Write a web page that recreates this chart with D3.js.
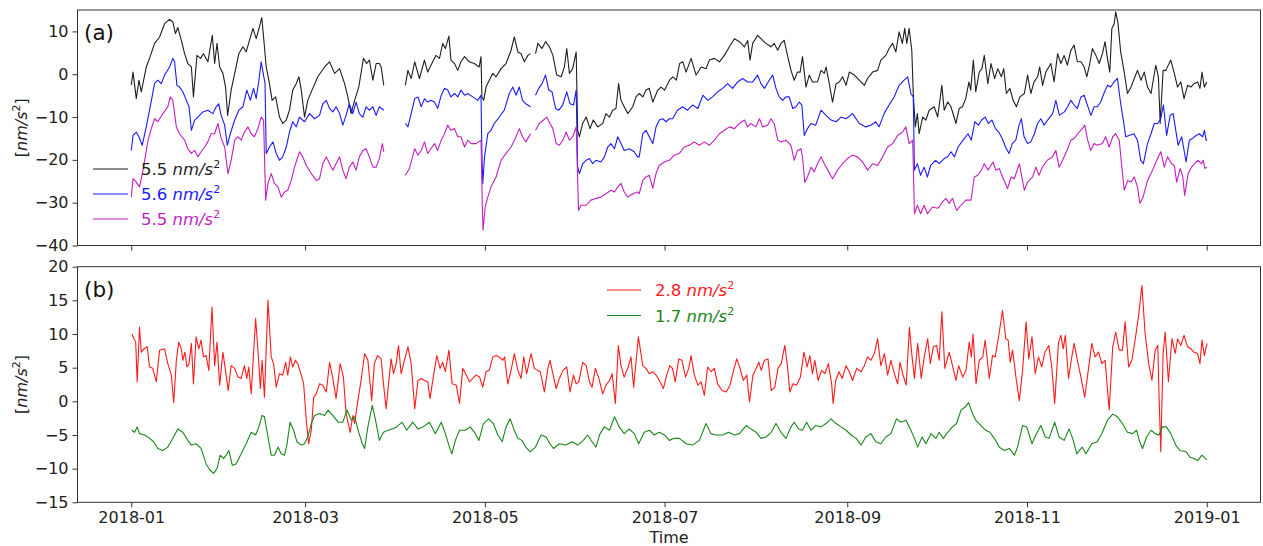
<!DOCTYPE html>
<html>
<head>
<meta charset="utf-8">
<script src="https://cdn.jsdelivr.net/npm/d3@7/dist/d3.min.js"></script>
<style>
  body { margin: 0; background: #fff; }
  svg text { font-family: "DejaVu Sans", sans-serif; }
</style>
</head>
<body>
<div id="chart"></div>
<script>
// day offsets are counted from 2018-01-01, values in nm/s^2
// null marks the gaps in the top records
var blackSeries = [[0,-2.5],[0.6,0.5],[1.7,-5.7],[2.6,-1.4],[3.4,-4.1],[5.1,1.7],[6.2,3.7],[7.9,7.2],[9.6,8.7],[11.3,11.8],[13,12.8],[14.1,12.2],[15,9.5],[15.8,10.9],[17,7.9],[18.1,4.8],[19.2,2.5],[20.4,1.7],[21.1,-5.3],[22.3,4.4],[23.5,3.7],[24.5,4.8],[26,2.9],[27.5,9.1],[28.3,2.5],[29.1,7.2],[30,1.7],[31.1,0.2],[32,-3],[32.7,-9.6],[33.9,-3.7],[35.1,0.2],[36.5,4.8],[37.9,6.4],[39,5.2],[40.1,7.9],[41.3,10.7],[42.4,8.3],[43.5,11.1],[44.3,13.2],[44.9,8.7],[45.8,1.7],[46.9,-2.2],[47.8,-6.1],[49,-5.3],[50.3,-10],[51.4,-11.5],[52.6,-10.7],[53.7,-8.4],[54.8,-3.7],[56,-2.2],[56.9,-0.6],[57.7,-3.7],[58.8,-10],[59.9,-6.1],[61.6,-3.3],[63.3,-0.6],
  [65.6,1.7],[67.3,2.9],[69,0.2],[70.7,1.3],[72.4,-2.2],[73.5,-5.3],[74.6,-9.2],[75.8,-6.1],[77.2,-3],[78.8,3.7],[79.9,2.5],[80.8,3.3],[82,-1.4],[83.1,2.5],[84.2,2.5],[84.8,1.7],[85.7,-2.6],[89,null],
  [93,-2.6],[93.9,0.9],[95,-1],[96.2,2.9],[97.8,-1],[99.5,3.3],[100.6,0.5],[102.3,2.9],[103.4,4.4],[104.6,3.7],[105.7,7.2],[106.6,6],[107.8,8.9],[108.5,3.3],[109.7,2.5],[110.8,0.9],[111.9,2.9],[113.1,4.1],[114.7,2.9],[116.4,2.5],[118.1,1.7],[118.7,4.1],[119,-5.3],[119.6,-6.1],[120.4,-3],[121.5,-1.4],[122.7,0.2],[123.8,-0.6],[125.5,1.3],[127.2,2.5],[128.9,5.6],[130,8.7],[131.2,5.2],[132.3,4.8],[133.4,2.9],[134.6,4.4],[135.5,4.8],[136.3,null],
  [137.2,4.8],[138,7.2],[139.4,6],[140.6,7.6],[141.9,6.4],[143.1,4.4],[144.4,-0.2],[145.9,-0.6],[147,1.7],[147.8,6],[148.7,0.2],[149.8,1.3],[151,5.2],[151.5,-13.1],[152.1,-14.6],[153.2,-11.5],[154.4,-10],[155.7,-12.7],[156.8,-10.7],[158.3,-12.3],[160,-11.5],[161.1,-9.2],[162.3,-10],[163.4,-8.4],[164.5,-8],[165.4,-2.2],[166.2,-6.1],[167.3,-7.6],[168.5,-9.2],[170.2,-7.6],[171.3,-5.3],
  [172.4,-4.5],[173.6,-5.3],[174.7,-3.7],[175.8,-3.3],[177,-6.5],[178.7,-3.7],[179.8,-3],[181,-3.7],[182.7,-1.4],[183.8,-0.6],[185,-1.4],[186.1,2.5],[187.2,2.9],[188.3,0.5],[190,3.7],[191.7,-0.2],[193.4,1.7],[195.1,1.3],[196.2,3.3],[197.9,3.7],[199.6,2.9],[201.3,4.4],[203,6.4],[204.7,8.3],[206.4,7.6],[208.1,6.4],[209.2,7.9],[210,3.3],[210.9,7.2],[212.6,9.1],[213.7,8.3],[215.4,7.2],[217.1,6.4],[218.2,7.2],[219.4,5.6],[220.5,7.2],[221.6,7.9],[222.8,4.1],[223.9,0.9],[225,-1.4],[226.1,0.5],[227,0.5],[227.8,4.1],[229,-3],[230.1,-0.2],[231.2,-1.8],[232.9,-1.8],[234.1,0.9],[235.2,0.2],[235.8,1.7],[236.9,-2.2],[238,-6.5],[239.2,-2.2],[240.3,-1.8],[241.4,-0.6],[242.6,-2.6],[243.7,0.5],[245.4,-0.2],[247.1,-1.4],[248.8,-2.6],[249.9,-1],[251.6,0.5],[253.3,0.9],[254.4,3.3],[256.1,4.4],[257.2,6],[258.4,7.2],[259.5,5.2],[260.6,9.9],[261.7,7.2],[262.5,10.7],[263.2,7.2],[264,10.7],[264.9,5.6],[265.4,-4.5],[266.1,-12.3],[266.8,-9.2],[267.4,-13.9],[268.6,-10],[269.7,-10.7],[270.8,-8.4],[272.5,-7.6],[273.7,-10],
  [275.1,-2.6],[275.9,-8.4],[277.1,-6.5],[278.2,-7.6],[279.9,-11.5],[281,-8],[282.1,-7.6],[283.2,-5.7],[284.3,-1.8],[284.9,-3.7],[285.8,3.3],[286.6,-4.1],[287.8,0.5],[288.7,1.3],[289.5,4.4],[290.7,-2.2],[291.8,2.5],[293,-1],[294.1,1.3],[295.3,-0.6],[296.1,1.3],[297,-4.5],[298.2,-3.3],[299.3,-6.1],[300.4,-7.6],[301.6,-5.3],[303.1,-4.5],[304.2,-0.2],[305.3,-4.5],[306.4,-1.8],[307.6,-0.6],[308.3,1.7],[309.3,-2.6],[310.4,0.5],[312.1,2.5],[313.2,-1.8],[314.4,4.8],[315.5,2.5],[316.6,4.4],[317.7,2.1],[318.9,5.6],[320,6.8],[321.1,2.9],[322.3,2.9],[323.4,1.7],[324.3,-0.6],[325.3,2.5],[326.2,6],[327.4,4.4],[328.5,2.5],[329.6,4.8],[330.5,7.6],[331.3,3.7],[332.1,0.5],[332.8,10.7],[333.6,11.8],[334.1,14.6],[334.9,11.8],[335.8,5.2],[337,0.5],[338.1,-4.5],[339.3,-3],[340.4,-1],[341.5,0.9],[342.7,-1.4],[343.8,0.5],[344.9,-3],[346.1,-4.5],[347.7,2.1],[348.6,-0.6],[349.2,-11.5],[350.2,0.9],[351.1,0.9],[352.8,3.3],[354,0.2],[355.1,-3],[356.2,-1.8],[357.3,-5.7],[358.5,-2.6],[359.6,-3],[360.7,-2.2],[361.9,-1.8],[362.7,-3.3],[363.4,0.5],[364.2,-3],[365,-1.8]];

var blueSeries = [[0,-17.8],[0.6,-14.3],[1.7,-13.5],[2.6,-14.6],[3.7,-16.6],[5.1,-12.3],[6.2,-8.4],[7.9,-2.2],[9,-1.4],[10.2,-2.2],[11.3,-0.2],[13,1.7],[14.1,3.7],[14.7,2.9],[15.5,-2.6],[16.4,-3],[17.5,-4.1],[18.7,-6.1],[19.6,-7.6],[20.4,-13.1],[21.5,-10.7],[22.6,-10],[24.3,-8.8],[26,-8.4],[27.7,-9.2],[28.8,-7.6],[29.7,-6.9],[30.5,-9.6],[31.7,-11.9],[32.6,-16.6],[33.6,-13.9],[35.1,-10.7],[36.5,-8.4],[37.9,-7.6],[39.2,-3.7],[40.4,-6.1],[41.5,-3.3],[42.4,-5.7],[43.3,-1.4],[44.1,2.9],[44.7,0.5],[45.4,-2.2],[45.8,-18.5],[46.9,-17],[48.1,-15.8],[49.2,-18.5],[50.3,-20.1],[51.4,-19.3],[52.6,-17],[53.7,-13.5],[54.8,-11.1],[56,-12.3],[57.1,-10],[58.8,-11.1],[60.5,-9.2],[62.2,-10.4],
  [63.9,-9.6],[65,-6.9],[66.2,-6.1],[67.3,-8],[68.4,-8.8],[69.5,-7.6],[70.7,-9.2],[71.8,-11.9],[72.9,-9.6],[74,-6.9],[75.2,-9.2],[76.3,-6.5],[77.4,-9.2],[78.6,-10],[79.7,-7.6],[80.8,-8.4],[82,-7.6],[83.1,-9.6],[84.2,-7.6],[85.7,-8.4],[89,null],
  [93,-11.5],[93.9,-12.3],[95,-9.2],[96.2,-5.7],[97.3,-5.3],[98.4,-7.6],[99.5,-5.7],[100.6,-6.5],[101.7,-6.1],[102.9,-6.5],[104,-8],[105.2,-4.9],[106.3,-3.3],[107.4,-3.7],[108.5,-5.3],[109.7,-4.5],[110.8,-5.3],[111.9,-3.7],[113.1,-4.9],[114.2,-4.5],[115.9,-5.3],[117.6,-6.1],[118.7,-4.9],[119,-18.5],[119.3,-25.5],[119.9,-19.3],[121,-13.9],[122.1,-13.1],[123.2,-11.5],[124.9,-10],[126.6,-8.4],[128.3,-4.5],[129.5,-3],[130.6,-4.9],[131.7,-3],[132.8,-6.1],[133.9,-6.9],[135.5,-7.6],[136.3,null],
  [137.2,-4.9],[138.3,-3.3],[139.4,-2.2],[140.6,-0.2],[141.7,-3.7],[142.8,-4.1],[144,-8],[145.1,-8.4],[146.4,-7.2],[147.8,-4.1],[148.9,-6.9],[150.1,-7.2],[151,-3.7],[151.5,-21.7],[152.1,-23.2],[153.2,-20.9],[154.4,-20.1],[155.5,-19.7],[156.6,-20.9],[157.7,-20.1],[159.4,-20.5],[160.6,-19.3],[161.7,-17],[162.8,-16.2],[164,-17.4],[165.1,-14.6],[166.2,-16.2],[167.3,-17.8],[169,-17.4],[170.7,-18.1],[171.8,-19.3],
  [172.4,-19.3],[173.6,-13.9],[174.7,-13.1],[175.8,-14.6],[177,-16.2],[178.1,-12.3],[179.2,-10.7],[180.4,-10.4],[181.5,-11.1],[182.6,-10.4],[183.7,-10.4],[185.4,-8.4],[187.1,-7.6],[188.8,-8.4],[190.5,-7.2],[192.3,-8],[194,-4.9],[195.7,-6.1],[197.3,-5.3],[199,-4.1],[200.7,-3.3],[202.4,-2.2],[204.1,-3.3],[205.8,-1.8],[207.5,-1],[209.2,-1.8],[210.9,-1.8],[212.6,-0.2],[213.7,-2.2],[214.9,-3.3],[216.5,-1.4],[217.7,-0.2],[218.8,-3.3],[219.9,-5.3],[221.1,-6.1],[222.2,-5.3],[223.3,-5.3],[224.5,-8],[225.6,-7.6],[226.7,-6.5],[227.6,-7.2],[228.4,-14.3],[229.5,-12.7],[230.7,-11.5],[232.3,-11.9],[234.1,-8.4],[235.8,-9.6],[237.5,-10.7],[239.2,-11.1],[240.9,-10],[242.6,-10.4],[244.8,-9.2],[247.1,-11.5],[249.3,-12.3],[251,-11.9],[252.7,-11.1],[253.8,-12.3],[255.5,-9.2],[257.2,-7.2],[258.9,-5.3],[260.6,-2.6],[262.3,-1.4],[263.5,-0.6],[264.6,-4.5],[265.4,-5.3],[265.8,-22.4],[266.8,-20.9],[267.9,-23.6],[269.1,-21.7],[270.2,-24],[271.3,-21.3],[273,-20.1],
  [274.2,-20.9],[275.9,-19.7],[277.1,-19.3],[278.2,-18.1],[279.4,-19.3],[280.6,-17],[282.3,-15.4],[284,-13.9],[285.1,-15.4],[286.3,-11.1],[287.5,-11.9],[288.6,-10.7],[289.8,-10],[290.9,-11.5],[292.1,-10.7],[293.3,-12.7],[294.4,-13.5],[295.6,-15],[296.7,-17],[297.9,-18.5],[299,-16.2],[300.2,-15.4],[301.3,-11.9],[302.1,-10.4],[303,-14.6],[304.2,-16.2],[305.3,-15.8],[306.5,-13.9],[307.6,-11.5],[308.7,-10.4],[309.8,-11.9],[311,-10.7],[312.7,-9.2],[313.8,-6.1],[315,-9.6],[316.7,-8.8],[317.8,-7.6],[318.9,-6.1],[320,-7.2],[321.1,-8],[322.3,-5.3],[323.4,-4.9],[324.5,-7.2],[325.7,-9.6],[326.8,-7.6],[327.9,-7.6],[329,-6.5],[330.1,-4.5],[331.3,-2.6],[332.4,-3],[333.5,-1.8],[334.7,-1],[335.8,-6.9],[336.7,-10.7],[337.5,-14.6],[338.6,-14.3],[340.3,-13.9],[341.5,-15.4],[342.6,-20.1],[343.5,-20.9],[344.9,-16.2],[346.1,-13.9],[347.2,-11.5],[348.3,-11.5],[349.4,-10.4],[350.3,-7.2],[351.4,-14.3],[352.6,-9.6],[353.6,-9.2],[354.5,-13.1],[355.3,-16.6],[356.5,-14.6],[358,-20.5],[359.1,-15.4],[360.2,-15],[361.4,-14.3],[362.5,-13.9],[363.6,-14.6],[364.2,-13.1],[364.8,-15.4],[365.1,-15.4]];

var magentaSeries = [[0,-28.7],[0.6,-24.4],[1.7,-25.2],[2.8,-26.3],[4,-22.4],[5.7,-15.4],[6.8,-12.7],[7.9,-10.4],[9,-11.1],[10.7,-9.2],[12.4,-7.6],[13.2,-5.3],[14.1,-6.1],[15.3,-12.3],[16.4,-13.9],[18.1,-15.4],[19.2,-17.4],[20.4,-18.5],[21.5,-17.8],[22.6,-19.3],[23.7,-18.1],[24.9,-17],[26,-15.8],[27.1,-13.9],[28.3,-13.9],[29.4,-11.5],[30.5,-15],[31.7,-17],[32.8,-23.2],[33.9,-20.1],[35.1,-15.4],[36.2,-14.6],[37.3,-15.4],[38.4,-13.5],[39.6,-12.3],[40.7,-13.9],[41.8,-14.6],[43,-12.7],[44.1,-10],[44.9,-10.7],[45.6,-29.4],[46.4,-25.5],[47.5,-23.2],[48.6,-25.5],[49.8,-26.3],[50.9,-28.7],[52,-27.5],[53.1,-27.1],[54.3,-24.8],[55.4,-21.7],[57.1,-18.1],[58.2,-19.3],[59.4,-21.3],[61.1,-23.2],[62.8,-24.8],
  [63.9,-24.4],[65,-20.9],[66.2,-19.3],[67.3,-20.9],[68.4,-22.4],[69.5,-20.9],[70.7,-19.3],[71.8,-22.4],[72.9,-24.4],[74,-21.7],[75.2,-20.5],[76.3,-22.4],[77.4,-19.3],[78.6,-17.8],[79.7,-17.4],[80.8,-19.3],[82,-21.7],[83.1,-21.7],[84.2,-19.7],[85.2,-16.2],[85.7,-18.1],[89,null],
  [93,-23.6],[94.4,-22],[96.2,-17.4],[97.3,-18.9],[98.4,-17.8],[99.5,-15.8],[100.6,-18.5],[101.7,-17.4],[102.9,-16.2],[104,-17.8],[105.2,-15.4],[106.3,-13.9],[107.4,-11.9],[108.5,-13.1],[109.7,-12.7],[110.8,-14.6],[111.9,-14.6],[113.1,-17],[114.2,-15.4],[115.4,-16.2],[117,-16.2],[118.7,-15.4],[119.2,-32.6],[119.4,-36.4],[120.1,-31],[121,-28.7],[122.1,-26.3],[123.8,-24],[125.5,-20.1],[127.2,-18.5],[128.9,-17],[130.6,-14.6],[131.7,-12.7],[132.8,-14.6],[133.9,-15.8],[135.5,-13.9],[136.3,null],
  [137.2,-13.1],[138.5,-11.5],[139.9,-10.7],[141,-10],[142.1,-11.5],[143.1,-12.7],[144.2,-16.2],[145.3,-16.6],[146.5,-15.4],[147.6,-13.5],[148.7,-15.4],[149.8,-14.6],[151,-12.3],[151.8,-31.8],[152.6,-30.6],[154.4,-30.6],[156,-29.4],[157.7,-29],[159.4,-28.7],[161.1,-27.9],[162.8,-27.1],[164,-27.5],[165.1,-26.3],[166.2,-25.5],[167.3,-27.5],[168.5,-28.7],[170.2,-27.9],[171.8,-27.5],
  [172.4,-27.9],[173.6,-24.8],[174.7,-24],[175.8,-23.6],[177,-26.6],[178.1,-23.2],[179.2,-21.3],[180.9,-20.5],[182.6,-20.1],[184.3,-18.9],[186,-18.5],[187.7,-17],[189.4,-16.6],[191.1,-15.8],[192.8,-16.6],[194.5,-15.8],[196.2,-16.6],[197.9,-15.4],[199.6,-13.9],[201.3,-13.1],[203,-12.3],[204.7,-12.7],[206.4,-11.5],[208.1,-10.7],[209.2,-12.3],[210.3,-11.5],[212,-12.3],[213.2,-10.4],[214.3,-12.3],[216,-11.9],[217.1,-10.4],[218.2,-11.5],[219.4,-15.4],[220.5,-15.8],[222.2,-15.4],[223.9,-16.6],[225,-20.1],[226.1,-17.8],[227.3,-17.4],[227.8,-19.3],[228.6,-25.2],[229.5,-24],[230.7,-21.7],[231.8,-22.8],[232.9,-20.9],[234.1,-19.3],[235.2,-20.9],[236.4,-22.4],[238,-24.4],[239.7,-22.4],[241.4,-20.9],[243.1,-19.7],[244.8,-18.9],[246.5,-19.3],[248.2,-20.5],[249.9,-22.4],[251.6,-20.9],[253.3,-21.3],[255,-19.3],[256.7,-17],[258.4,-16.2],[260.1,-14.3],[261.8,-13.5],[262.9,-12.3],[264,-16.2],[265.2,-15.4],[265.8,-32.6],[266.8,-30.6],[267.9,-32.6],[269.1,-30.6],[270.2,-32.6],[271.9,-31],[273.6,-31.3],
  [274.2,-31],[275.3,-29.8],[276.5,-29],[277.6,-30.2],[278.7,-29],[280.1,-31.8],[281.6,-30.6],[283.2,-29.4],[285,-29.4],[286.1,-24],[287.3,-23.6],[288.5,-22.4],[289.5,-20.9],[290.8,-22.4],[292.5,-20.5],[293.4,-22.4],[294.6,-22],[295.7,-24],[297.4,-26.7],[298.6,-24],[299.7,-24.4],[301.4,-20.9],[303.1,-27.1],[304.2,-25.2],[305.9,-24],[307,-21.7],[308.1,-23.6],[309.2,-21.7],[310.9,-20.1],[312.6,-19.3],[313.8,-17.8],[314.9,-21.7],[316.1,-20.1],[317.8,-17.4],[318.9,-15.4],[320,-15],[321.7,-13.5],[322.8,-12.7],[323.6,-11.9],[324.6,-15.4],[325.6,-17.8],[326.8,-16.2],[327.9,-16.6],[329.6,-16.2],[330.7,-14.6],[331.9,-17],[333.1,-14.6],[334.1,-13.9],[335.3,-15.4],[336.2,-21.7],[337,-27.1],[338.2,-24.8],[339.3,-25.2],[340.4,-24],[341.5,-26.3],[342.3,-30.2],[343.4,-28.7],[344.9,-24.8],[346.6,-22.4],[348.3,-19.7],[349.4,-18.1],[350.6,-21.7],[351.7,-19.3],[353.1,-20.9],[354,-21.3],[354.8,-25.2],[356,-22],[356.9,-24],[357.5,-28.3],[358.7,-23.2],[359.8,-21.7],[360.9,-20.9],[362,-20.1],[363.2,-20.9],[363.8,-20.1],[364.4,-22],[365.1,-21.7]];

var redSeries = [[0.2,10],[1.1,9.1],[1.5,8.8],[2,2.9],[2.8,11],[3.4,7.3],[4.3,7.8],[5.4,8.1],[6.2,5.1],[7.3,4.9],[8.5,2.9],[9.6,7.6],[11.3,7.8],[12.4,5.6],[13.6,3.9],[14.4,-0.2],[15.3,6.1],[16.1,8.8],[17,7.8],[17.5,6.1],[18.2,7.3],[18.9,5.1],[19.6,5.6],[20.4,8.6],[21.1,2.6],[22,9.6],[22.9,7.8],[23.7,9.1],[24.5,6.6],[25.4,6.8],[26.3,4.6],[27.4,14],[28.3,5.3],[29.1,8.8],[30,2.4],[31.1,7.3],[32.2,3.9],[32.9,1.6],[33.9,5.3],[35.1,4.9],[36.2,3.6],[37.3,3.4],[38.4,5.3],[39.2,3.4],[39.9,5.1],[40.7,1.1],[42.2,12.3],[43,7.6],[43.8,1.9],[44.4,6.1],[45.2,0.6],[46.4,15],[47.5,6.6],[48.3,5.6],[49.2,2.1],[50.3,4.1],[51.4,3.9],[52.4,5.8],[53.1,3.9],[54,6.6],[54.8,5.1],[55.7,6.1],[56.5,5.6],[57.7,3.9],[58.5,2.6],[59.4,-2.8],[60.2,-6.3],[61.1,-4.3],[61.9,0.6],[62.8,1.1],
  [63.9,2.6],[65,2.4],[66.2,1.4],[67.3,5.8],[68.4,3.4],[69.5,0.4],[70.9,5.6],[72,3.6],[72.9,-1.8],[74.3,-4.6],[75.2,-2.1],[75.8,-3.3],[76.9,0.1],[78,3.1],[79.2,7.1],[80.3,6.1],[81.6,0.1],[82.5,5.6],[83.6,6.8],[84.8,6.3],[85.6,2.6],[86.5,-1.1],[87.3,2.6],[88.2,6.3],[89,4.1],[89.9,5.6],[90.7,8.3],[91.6,4.1],[92.7,6.1],[93.9,8.1],[95,5.6],[96.2,-1.1],[97.3,3.1],[98.4,3.4],[99.5,3.1],[100.6,2.9],[101.4,0.4],[102.5,3.6],[103.7,6.8],[104.8,4.9],[105.7,5.8],[106.6,4.4],[107.8,7.6],[108.9,2.6],[110.3,2.4],[111.4,-0.3],[112.5,4.9],[113.7,3.9],[114.8,2.9],[115.9,3.4],[117,3.9],[118.2,3.6],[119.3,2.1],[120.4,4.4],[121.5,4.6],[122.7,6.6],[123.8,6.8],[124.9,6.6],[126.1,6.1],[126.7,6.6],[127.8,2.6],[128.9,4.6],[130,7.1],[131.2,4.6],[132.3,3.4],[133.2,6.6],[134.2,4.1],[135.7,7.1],[136.8,4.9],[137.9,4.6],[138.8,4.4],[140.2,1.4],[141.4,4.9],[142.1,6.1],[143.1,4.1],[144.2,1.9],[145.3,3.4],[146.5,4.6],[147.8,5.1],[148.9,1.4],[150.1,3.9],[151,2.6],[151.9,2.9],[153.2,5.8],[154.4,5.3],[155.5,2.9],[156.4,2.1],[157.5,4.9],[158.7,3.4],[160,1.1],[161.1,2.4],[162.3,3.1],[163.2,4.1],[164.3,-0.3],[165.3,8.3],[166.2,5.3],[167.3,3.6],[168.5,4.9],[169.6,6.6],[170.5,2.1],[172.1,9.6],
  [173.6,5.3],[174.7,4.9],[175.8,4.1],[177,4.4],[178.1,3.9],[179.2,3.1],[180.6,1.9],[181.7,3.9],[182.8,5.3],[183.7,4.9],[184.6,2.9],[185.8,6.3],[186.9,6.1],[188.1,3.6],[189.2,4.9],[190,6.8],[191.1,3.9],[192.3,2.4],[193.4,2.9],[194.5,0.9],[195.6,5.1],[196.8,4.4],[197.9,4.9],[199,2.6],[200.5,1.6],[201.9,1.4],[203.2,2.4],[204.3,4.4],[205.5,6.3],[206.6,4.9],[207.7,3.1],[208.9,3.9],[209.8,-0.1],[211,3.9],[212.1,4.9],[213,5.8],[213.8,4.6],[214.9,6.1],[216.1,6.3],[217.2,1.6],[218.4,2.1],[219.5,4.9],[220.6,5.6],[221.8,8.3],[222.7,5.3],[223.5,1.4],[224.6,2.6],[225.8,2.4],[227.1,3.6],[228.3,7.3],[229.4,5.1],[230.3,6.8],[231.2,4.1],[232,6.1],[233.1,3.1],[234.3,4.6],[235.4,4.1],[236.6,5.6],[237.7,2.6],[238.2,-0.3],[239.1,3.1],[240.2,4.4],[241.3,3.4],[242.6,5.3],[243.7,4.4],[244.8,3.1],[246.2,4.9],[247.7,4.4],[248.8,5.3],[249.9,6.6],[251,6.1],[252.2,7.1],[253.3,9.3],[254.4,5.3],[255.6,7.1],[256.7,3.9],[257.8,6.1],[259,4.1],[260.1,2.6],[260.9,5.8],[261.8,4.1],[263,2.4],[264.1,11],[265,6.6],[265.8,3.4],[266.9,8.6],[268.1,3.4],[269.2,6.8],[270.3,9.3],[271.2,5.6],[272.2,8.1],[273.3,8.3],
  [274.2,6.1],[275.1,13.3],[276.1,4.9],[277.6,7.3],[278.7,5.3],[279.9,3.1],[280.8,5.3],[282.2,3.6],[283.3,4.6],[284.4,8.8],[285.1,6.6],[285.7,10],[286.7,2.6],[287.8,6.1],[289,6.6],[289.8,9.1],[291.2,3.4],[292.3,6.8],[293.2,6.6],[294.6,10.3],[295.7,13.5],[296.8,9.3],[297.6,9.1],[298.3,5.8],[299.1,7.6],[300.3,3.4],[301.4,0.1],[302.5,4.6],[303.7,11.8],[304.6,6.3],[305.7,9.6],[306.8,4.1],[307.9,6.6],[309,5.1],[310.1,7.3],[311.4,8.3],[312.4,5.1],[313.4,-0.3],[314.7,8.8],[315.5,9.8],[316.3,7.8],[317,9.8],[318.1,3.4],[319,6.1],[320,8.6],[321.1,6.1],[322.3,3.6],[323.6,0.6],[324.8,4.6],[326,8.6],[327.1,6.6],[328.3,7.3],[329.4,5.6],[330.5,6.1],[331.9,-1.3],[333.1,8.1],[334.1,10.3],[335.3,7.6],[336.4,7.6],[337.3,11.8],[338.5,5.1],[339.6,6.1],[340.7,9.1],[341.9,12.8],[343,17.2],[344.1,10],[345.3,5.6],[346.4,3.1],[347.5,7.6],[348.4,8.3],[348.8,1.1],[349.4,-7.5],[350.2,7.1],[350.9,10.3],[352,2.9],[353.2,9.3],[354.3,7.1],[355.1,9.3],[356.2,8.3],[357.3,9.8],[358.5,8.1],[359.6,7.8],[360.7,7.3],[361.9,7.1],[362.7,5.6],[363.4,9.1],[364.2,6.8],[365.1,8.6]];

var greenSeries = [[0.2,-4.3],[1.1,-4.6],[2,-3.8],[2.8,-4.8],[4.5,-5],[6.2,-5.5],[7.6,-6],[9,-7],[10.7,-7.3],[12.4,-6.8],[14.1,-5.5],[15.8,-4.1],[17.5,-4.6],[19.2,-5.8],[20.4,-6.5],[22,-6.3],[23.7,-7],[25.4,-9.3],[26.7,-10.2],[27.9,-10.7],[29.1,-10],[30.2,-8],[31.3,-8.5],[32.2,-8],[33.1,-7.3],[34.3,-9.5],[35.6,-9.3],[37.3,-7.8],[39,-6.3],[40.7,-4.6],[42.2,-5],[43.3,-3.8],[44.4,-2.1],[45.2,-2.3],[46.4,-5.3],[47.5,-8],[48.6,-8],[49.8,-6.8],[50.9,-7.8],[52,-8],[52.8,-6.5],[53.9,-3.1],[55.1,-4.3],[56.2,-6],[57.7,-6.5],[58.8,-6.3],[59.9,-5.3],[61.1,-3.3],[62.2,-2.1],
  [63.9,-1.8],[65.6,-2.1],[66.8,-1.3],[68.4,-2.1],[70.2,-3.1],[71.8,-3.1],[73.2,-1.3],[74.7,-2.8],[75.8,-2.3],[77.2,-4.6],[78.4,-6.3],[79.2,-7],[80.3,-3.8],[81.8,-0.6],[82.9,-2.8],[84.2,-5.8],[85.6,-4.6],[87.1,-4.3],[88.5,-4.1],[90.1,-3.8],[91.9,-3.1],[93.5,-4.3],[95.5,-3.1],[97.3,-4.1],[99,-3.8],[101.2,-3.1],[103.2,-4.8],[105.2,-3.1],[106.6,-4.8],[108,-6.8],[108.8,-7.8],[110,-5.8],[111.4,-4.3],[113.4,-4.3],[115,-3.8],[116.5,-4.6],[118,-5.8],[119.5,-3.3],[121.3,-2.6],[122.9,-3.3],[124.4,-5],[125.9,-6],[127.2,-3.8],[128.6,-2.6],[129.8,-4.1],[131.2,-5.5],[132.6,-5.8],[133.9,-6.8],[135.4,-7.5],[137.2,-6.8],[139.1,-5],[140.8,-5.3],[142.1,-6.3],[143.3,-7],[145.3,-6.3],[147.5,-6.5],[149.6,-6],[151.5,-6.5],[153.4,-5.8],[154.9,-5],[156.4,-6],[157.7,-6.8],[159.1,-4.8],[160.6,-3.8],[162.3,-4.3],[164,-2.3],[165.6,-3.8],[167.3,-4.8],[169,-4.1],[170.7,-4.8],[172.2,-6.3],
  [174.1,-4.6],[175.8,-4.3],[177.5,-5],[179.2,-4.6],[181,-5],[182.6,-5.8],[184.3,-5.5],[186,-5.5],[188.3,-6.3],[190.5,-6.5],[192.8,-5.8],[193.9,-4.6],[195.1,-3.3],[196.7,-4.8],[198.4,-5],[200.7,-5],[202.7,-4.6],[204.7,-5],[206.4,-4.8],[208.7,-3.6],[210.3,-4.1],[212.1,-4.6],[213.7,-5.5],[215.4,-5.3],[217.2,-4.6],[218.8,-3.3],[220.5,-4.6],[222.2,-5.5],[223.9,-3.8],[225,-3.1],[226.5,-4.1],[227.8,-4.3],[229.2,-3.1],[230.7,-4.3],[232.3,-3.6],[234.1,-3.8],[235.8,-3.3],[237.5,-2.6],[239.2,-3.3],[240.9,-3.8],[242.6,-4.3],[244.3,-5],[246,-5.5],[247.7,-6.5],[249.3,-5.3],[251,-4.8],[252.7,-6],[254.4,-6.3],[256.1,-5.3],[257.8,-4.8],[259.7,-2.6],[261.2,-3.1],[262.9,-2.8],[264.6,-4.3],[265.8,-5.5],[266.9,-6.8],[268.4,-5.3],[269.7,-6.3],[271.4,-4.8],[273.1,-5.5],
  [274.2,-4.6],[275.6,-5.5],[277.1,-4.6],[278.7,-3.8],[280.1,-3.3],[281.6,-1.3],[283.1,-0.8],[284.2,-0.2],[285.3,-1.6],[286.6,-2.8],[288.4,-3.6],[290,-4.3],[291.4,-4.6],[292.9,-5.5],[294.6,-6.8],[296.3,-7.3],[298,-7],[299.7,-8],[300.8,-6.8],[302.5,-3.6],[303.9,-3.8],[305.7,-6.3],[307,-5],[308.7,-3.6],[310.2,-5.3],[311.5,-5.5],[313.4,-3.1],[314.9,-5.3],[316.6,-5.8],[318.3,-4.1],[319.7,-5.8],[320.9,-7.8],[322.7,-6.8],[324,-7.8],[326,-6.3],[327.9,-6],[329.6,-4.6],[331.3,-2.8],[333.1,-1.9],[334.7,-2.3],[336.4,-3.3],[338.1,-4.6],[339.8,-4.8],[341.2,-4.3],[342.1,-5.8],[343.2,-7],[344.6,-5.3],[346.1,-4.3],[347.5,-4.8],[348.8,-5],[350,-3.8],[351.3,-3.8],[352.8,-4.8],[354.5,-6.5],[355.9,-7.3],[358,-7.5],[359.3,-8.3],[360.8,-8.5],[361.9,-8.8],[363.4,-8],[365.1,-8.7]];

// legend labels (RMS of each record)
var topLabels = ['5.5', '5.6', '5.5'];
var bottomLabels = ['2.8', '1.7'];
var topTicks = [-40, -30, -20, -10, 0, 10];
var bottomTicks = [-15, -10, -5, 0, 5, 10, 15, 20];

var width = 1263;
var height = 546;
var left = 77.5;
var right = 1260.5;
var startDate = Date.UTC(2018, 0, 1);
function toDate(day) { return new Date(startDate + day * 864e5); }

var svg = d3.select('#chart').append('svg')
      .attr('width', width)
      .attr('height', height)
      .style('background', '#fff');

// shared time scale, matplotlib style 5% margins around the year
var xScale = d3.scaleUtc()
      .domain([toDate(-18.25), toDate(383.25)])
      .range([left, right]);

var panels = [
  { top: 10, bottom: 245.5, domain: [-40, 15], ticks: topTicks, tag: '(a)',
    series: [ { data: blackSeries, color: '#1f1f1f' },
              { data: blueSeries, color: '#1a1aff' },
              { data: magentaSeries, color: '#c21fc2' } ] },
  { top: 266.7, bottom: 502.3, domain: [-15, 20], ticks: bottomTicks, tag: '(b)',
    series: [ { data: redSeries, color: '#ff1a1a' },
              { data: greenSeries, color: '#1a861a' } ] }
];

function unitLabel(textSel, prefix, suffix, supSize) {
  if (prefix) textSel.append('tspan').text(prefix);
  textSel.append('tspan').style('font-style', 'italic').text('nm/s');
  textSel.append('tspan').attr('dy', -7).style('font-size', supSize + 'px').text('2');
  if (suffix) textSel.append('tspan').attr('dy', 7).text(suffix);
}

panels.forEach(function (p, i) {
  var yScale = d3.scaleLinear().domain(p.domain).range([p.bottom, p.top]);
  p.yScale = yScale;

  var clipId = 'clip' + i;
  svg.append('clipPath').attr('id', clipId)
    .append('rect')
      .attr('x', left).attr('y', p.top)
      .attr('width', right - left).attr('height', p.bottom - p.top);

  var line = d3.line()
      .defined(function (d) { return d[1] !== null; })
      .x(function (d) { return xScale(toDate(d[0])); })
      .y(function (d) { return yScale(d[1]); });

  var g = svg.append('g').attr('clip-path', 'url(#' + clipId + ')');
  p.series.forEach(function (s) {
    g.append('path')
      .attr('d', line(s.data))
      .attr('fill', 'none')
      .attr('stroke', s.color)
      .attr('stroke-width', 1.1)
      .attr('stroke-linejoin', 'round');
  });

  // y axis
  var yAxis = svg.append('g')
      .attr('transform', 'translate(' + left + ',0)')
      .call(d3.axisLeft(yScale).tickValues(p.ticks).tickSize(5).tickPadding(4)
            .tickFormat(function (d) { return d < 0 ? '\u2212' + Math.abs(d) : d; }));
  yAxis.select('.domain').remove();
  yAxis.selectAll('text').style('font-size', '16px').attr('fill', '#222');
  yAxis.selectAll('line').attr('stroke', '#333');

  // x axis, labels only on the lower panel
  var xAxis = d3.axisBottom(xScale)
      .ticks(d3.utcMonth.every(2))
      .tickSize(5).tickPadding(4)
      .tickFormat(i === 1 ? d3.utcFormat('%Y-%m') : '');
  var xg = svg.append('g')
      .attr('transform', 'translate(0,' + p.bottom + ')')
      .call(xAxis);
  xg.select('.domain').remove();
  xg.selectAll('text').style('font-size', '16px').attr('fill', '#222');
  xg.selectAll('line').attr('stroke', '#333');

  // frame
  svg.append('rect')
    .attr('x', left).attr('y', p.top)
    .attr('width', right - left).attr('height', p.bottom - p.top)
    .attr('fill', 'none').attr('stroke', '#333').attr('stroke-width', 1);

  svg.append('text')
    .attr('x', 84).attr('y', p.top + 30)
    .style('font-size', '21.5px').attr('fill', '#111')
    .text(p.tag);

  var yl = svg.append('text')
    .attr('transform', 'rotate(-90)')
    .attr('x', -(p.top + p.bottom) / 2)
    .attr('y', 27)
    .style('text-anchor', 'middle')
    .style('font-size', '16px')
    .attr('fill', '#222');
  unitLabel(yl, '[', ']', 11);
});

// legend of panel (a), lower left
var topLegend = svg.append('g');
topLabels.forEach(function (label, k) {
  var color = panels[0].series[k].color;
  var ly = 169 + k * 25;
  topLegend.append('line')
    .attr('x1', 93).attr('x2', 128).attr('y1', ly).attr('y2', ly)
    .attr('stroke', color).attr('stroke-width', 1.1);
  var t = topLegend.append('text')
    .attr('x', 141).attr('y', ly + 6)
    .style('font-size', '16.5px').attr('fill', color);
  unitLabel(t, label + ' ', '', 11);
});

// legend of panel (b), top centre
var bottomLegend = svg.append('g');
bottomLabels.forEach(function (label, k) {
  var color = panels[1].series[k].color;
  var ly = 290 + k * 25.5;
  bottomLegend.append('line')
    .attr('x1', 607).attr('x2', 641).attr('y1', ly).attr('y2', ly)
    .attr('stroke', color).attr('stroke-width', 1.1);
  var t = bottomLegend.append('text')
    .attr('x', 655).attr('y', ly + 6)
    .style('font-size', '16.5px').attr('fill', color);
  unitLabel(t, label + ' ', '', 11);
});

svg.append('text')
  .attr('x', (left + right) / 2)
  .attr('y', 543)
  .style('text-anchor', 'middle')
  .style('font-size', '16px')
  .attr('fill', '#222')
  .text('Time');
</script>
</body>
</html>
